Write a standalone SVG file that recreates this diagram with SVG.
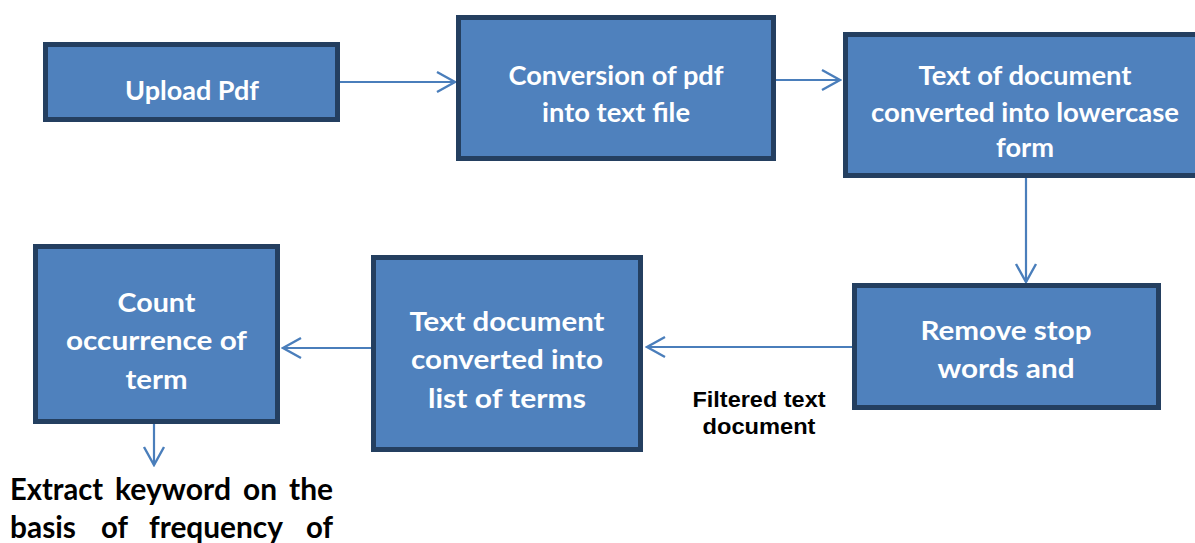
<svg xmlns="http://www.w3.org/2000/svg" width="1195" height="543" viewBox="0 0 1195 543">
<style>
.box{fill:#4F81BD;stroke:#243F60;stroke-width:5}
.bt{font-family:Lato,"Open Sans",sans-serif;font-weight:bold;font-size:26px;fill:#FFFFFF;text-anchor:middle}
.ft{font-family:"Liberation Sans",Arial,sans-serif;font-weight:bold;font-size:22px;fill:#000000;text-anchor:middle}
.kt{font-family:Lato,"Open Sans",sans-serif;font-weight:bold;font-size:31px;fill:#000000}
.conn{stroke:#4A7EBB;stroke-width:2.2;fill:none;marker-end:url(#ah)}
</style>
<defs>
<marker id="ah" viewBox="-20 -12 22 24" refX="0" refY="0" markerWidth="22" markerHeight="24" markerUnits="userSpaceOnUse" orient="auto">
<path d="M-18,-10 L0,0 L-18,10" fill="none" stroke="#4A7EBB" stroke-width="2.4"/>
</marker>
</defs>
<rect width="1195" height="543" fill="#FFFFFF"/>
<g id="connectors">
<line class="conn" x1="340" y1="82" x2="455" y2="82"/>
<line class="conn" x1="776" y1="80" x2="840" y2="80"/>
<line class="conn" x1="1026" y1="178" x2="1026" y2="282"/>
<line class="conn" x1="852" y1="347" x2="647" y2="347"/>
<line class="conn" x1="371" y1="348" x2="283" y2="348"/>
<line class="conn" x1="154" y1="424" x2="154" y2="465"/>
</g>
<g id="node-upload">
<rect class="box" x="45.5" y="44.5" width="292" height="75"/>
<text class="bt" x="192" y="100" textLength="134" lengthAdjust="spacingAndGlyphs">Upload Pdf</text>
</g>
<g id="node-conversion">
<rect class="box" x="458.5" y="17.5" width="315" height="141"/>
<text class="bt" x="616" y="85" textLength="215" lengthAdjust="spacingAndGlyphs">Conversion of pdf</text>
<text class="bt" x="616" y="122" textLength="148" lengthAdjust="spacingAndGlyphs">into text file</text>
</g>
<g id="node-lowercase">
<rect class="box" x="845.5" y="34.5" width="360" height="141"/>
<text class="bt" x="1025" y="85" textLength="213" lengthAdjust="spacingAndGlyphs">Text of document</text>
<text class="bt" x="1025" y="122" textLength="308" lengthAdjust="spacingAndGlyphs">converted into lowercase</text>
<text class="bt" x="1025" y="157" textLength="58" lengthAdjust="spacingAndGlyphs">form</text>
</g>
<g id="node-stopwords">
<rect class="box" x="854.5" y="285.5" width="304" height="122"/>
<text class="bt" x="1006" y="340" textLength="171" lengthAdjust="spacingAndGlyphs">Remove stop</text>
<text class="bt" x="1006" y="378" textLength="137" lengthAdjust="spacingAndGlyphs">words and</text>
</g>
<g id="label-filtered">
<text class="ft" x="759" y="407" textLength="133" lengthAdjust="spacingAndGlyphs">Filtered text</text>
<text class="ft" x="759" y="434" textLength="113" lengthAdjust="spacingAndGlyphs">document</text>
</g>
<g id="node-terms">
<rect class="box" x="373.5" y="257.5" width="267" height="192"/>
<text class="bt" x="507" y="331" textLength="195" lengthAdjust="spacingAndGlyphs">Text document</text>
<text class="bt" x="507" y="369" textLength="192" lengthAdjust="spacingAndGlyphs">converted into</text>
<text class="bt" x="507" y="408" textLength="158" lengthAdjust="spacingAndGlyphs">list of terms</text>
</g>
<g id="node-count">
<rect class="box" x="35.5" y="246.5" width="242" height="175"/>
<text class="bt" x="156.5" y="312" textLength="78" lengthAdjust="spacingAndGlyphs">Count</text>
<text class="bt" x="156.5" y="350" textLength="181" lengthAdjust="spacingAndGlyphs">occurrence of</text>
<text class="bt" x="156.5" y="389" textLength="62" lengthAdjust="spacingAndGlyphs">term</text>
</g>
<g id="label-extract">
<text class="kt" y="500"><tspan x="10" textLength="93" lengthAdjust="spacingAndGlyphs">Extract</tspan><tspan x="115" textLength="116" lengthAdjust="spacingAndGlyphs">keyword</tspan><tspan x="243" textLength="34" lengthAdjust="spacingAndGlyphs">on</tspan><tspan x="289" textLength="44" lengthAdjust="spacingAndGlyphs">the</tspan></text>
<text class="kt" y="538"><tspan x="10" textLength="66" lengthAdjust="spacingAndGlyphs">basis</tspan><tspan x="101" textLength="27" lengthAdjust="spacingAndGlyphs">of</tspan><tspan x="149" textLength="134" lengthAdjust="spacingAndGlyphs">frequency</tspan><tspan x="306" textLength="27" lengthAdjust="spacingAndGlyphs">of</tspan></text>
</g>
</svg>
